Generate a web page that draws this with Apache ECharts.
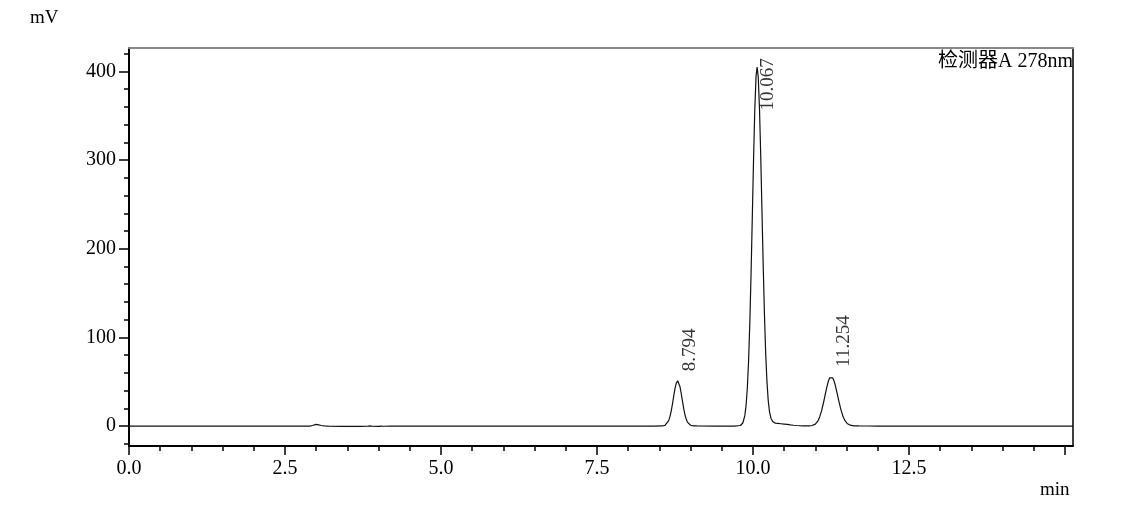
<!DOCTYPE html>
<html><head><meta charset="utf-8">
<script src="https://cdn.jsdelivr.net/npm/echarts@6/dist/echarts.min.js"></script>
<style>html,body{margin:0;padding:0;background:#fff}#c{width:1138px;height:506px}</style>
</head><body><div id="c"></div>
<script>
// Retention time (min) and detector signal (mV)
const times = [
  0, 1, 2, 2.9, 2.94, 2.97, 3.0, 3.04, 3.08, 3.13, 3.2, 3.4, 3.7, 3.82, 3.86, 3.9, 4.0, 4.04, 4.08, 4.2, 5, 6, 7, 8, 8.4,
  8.55, 8.59, 8.62, 8.65, 8.67, 8.69, 8.71, 8.73, 8.75, 8.77, 8.794, 8.81, 8.83, 8.85, 8.87, 8.89, 8.91, 8.93, 8.95, 8.97, 9.00, 9.05, 9.10, 9.4, 9.7,
  9.80, 9.84, 9.87, 9.89, 9.91, 9.93, 9.95, 9.97, 9.99, 10.01, 10.03, 10.05, 10.067,
  10.085, 10.105, 10.125, 10.145, 10.165, 10.185, 10.205, 10.225, 10.245, 10.265, 10.29, 10.32, 10.36, 10.40, 10.45, 10.50, 10.55, 10.60, 10.65, 10.70, 10.80, 10.90,
  10.95, 11.00, 11.04, 11.07, 11.10, 11.13, 11.16, 11.19, 11.21, 11.23, 11.254, 11.28, 11.30, 11.32, 11.35, 11.38, 11.41, 11.44, 11.47, 11.51, 11.56, 11.62, 11.70, 11.85, 12.0, 12.5, 13, 14, 15.13
];
const signal = [
  0, 0, 0, 0, 0.6, 1.6, 1.9, 1.3, 0.6, 0.2, 0, -0.3, -0.4, -0.2, 0.1, -0.2, -0.3, 0, -0.2, -0.1, 0, 0, 0, 0, 0,
  0.1, 0.7, 2.3, 6.1, 10.6, 16.9, 24.8, 33.6, 41.9, 48.1, 51, 49.7, 44.7, 37, 28.3, 19.9, 12.9, 8, 4.5, 2.4, 0.9, 0.3, 0.1, 0, 0,
  0.6, 3.7, 11.7, 23.2, 42.6, 72.9, 116, 171.6, 235.7, 301, 357.4, 394.5, 405,
  394, 358.5, 305, 242.5, 180.2, 125.2, 81.3, 49.8, 29, 16.4, 8.6, 4.8, 3.3, 3.0, 2.6, 2.2, 1.8, 1.3, 0.9, 0.6, 0.3, 0.1,
  0.6, 2.2, 5.7, 10.3, 17.1, 26, 36, 45.6, 50.8, 54.4, 56, 54.3, 50.9, 46, 36.9, 27.3, 18.6, 11.7, 6.7, 2.9, 1.0, 0.3, 0.1, 0.05, 0, 0, 0, 0, 0
];
const peakTimes = [8.794, 10.067, 11.254];
const peakHeights = [51, 405, 56];

const xMajorTicks = [0, 2.5, 5, 7.5, 10, 12.5, 15];
const xLabelTicks = [0, 2.5, 5, 7.5, 10, 12.5];
const xMinorTicks = [0.5, 1, 1.5, 2, 3, 3.5, 4, 4.5, 5.5, 6, 6.5, 7, 8, 8.5, 9, 9.5, 10.5, 11, 11.5, 12, 13, 13.5, 14, 14.5];
const yMajorTicks = [0, 100, 200, 300, 400];
const yMinorTicks = [-20, 20, 40, 60, 80, 120, 140, 160, 180, 220, 240, 260, 280, 320, 340, 360, 380, 420];

const xMin = 0, xMax = 15.13, yMin = -22.5, yMax = 426.5;
const FONT = '"Liberation Serif", "Noto Sans CJK SC", serif';

const chart = echarts.init(document.getElementById('c'), null, {renderer: 'canvas'});
const hidden = {show: false};
chart.setOption({
  animation: false,
  backgroundColor: '#fff',
  grid: {left: 129, right: 65, top: 48, bottom: 60, show: false},
  xAxis: [
    {type: 'value', min: xMin, max: xMax, position: 'bottom',
     axisLine: {show: true, onZero: false, lineStyle: {color: '#000', width: 2}},
     axisTick: {show: true, customValues: xMajorTicks, length: 9, lineStyle: {color: '#000', width: 1.5}},
     axisLabel: {show: true, customValues: xLabelTicks, formatter: v => v.toFixed(1), fontSize: 20, color: '#000', margin: 13, fontFamily: FONT},
     splitLine: hidden},
    {type: 'value', min: xMin, max: xMax, position: 'bottom',
     axisLine: {show: false, onZero: false},
     axisTick: {show: true, customValues: xMinorTicks, length: 5, lineStyle: {color: '#000', width: 1.5}},
     axisLabel: hidden, splitLine: hidden},
    {type: 'value', min: xMin, max: xMax, position: 'top',
     axisLine: {show: true, onZero: false, lineStyle: {color: '#888', width: 2}},
     axisTick: hidden, axisLabel: hidden, splitLine: hidden}
  ],
  yAxis: [
    {type: 'value', min: yMin, max: yMax, position: 'left',
     axisLine: {show: true, onZero: false, lineStyle: {color: '#000', width: 2}},
     axisTick: {show: true, customValues: yMajorTicks, length: 10, lineStyle: {color: '#000', width: 1.5}},
     axisLabel: {show: true, customValues: yMajorTicks, fontSize: 20, color: '#000', margin: 13, fontFamily: FONT},
     splitLine: hidden},
    {type: 'value', min: yMin, max: yMax, position: 'left',
     axisLine: {show: false, onZero: false},
     axisTick: {show: true, customValues: yMinorTicks, length: 5, lineStyle: {color: '#000', width: 1.5}},
     axisLabel: hidden, splitLine: hidden},
    {type: 'value', min: yMin, max: yMax, position: 'right',
     axisLine: {show: true, onZero: false, lineStyle: {color: '#000', width: 1.5}},
     axisTick: hidden, axisLabel: hidden, splitLine: hidden}
  ],
  graphic: [
    {type: 'text', left: 30, top: 9, style: {text: 'mV', font: '19px ' + FONT, fill: '#000'}},
    {type: 'text', left: 1040, top: 481, style: {text: 'min', font: '19px ' + FONT, fill: '#000'}},
    {type: 'text', right: 65, top: 52, style: {text: '检测器A 278nm', font: '20px ' + FONT, fill: '#000'}}
  ],
  series: [
    {type: 'line', xAxisIndex: 0, yAxisIndex: 0, showSymbol: false, symbol: 'none',
     data: times.map((t, i) => [t, signal[i]]),
     lineStyle: {color: '#111', width: 1.2}, z: 5},
    {type: 'scatter', xAxisIndex: 0, yAxisIndex: 0, symbolSize: 1,
     itemStyle: {color: 'transparent'},
     data: peakTimes.map((t, i) => {
       const d = {value: [t, peakHeights[i]]};
       if (i === 1) d.label = {position: [11, 44]};
       return d;
     }),
     label: {show: true, rotate: 90, position: [13, -9], align: 'left', verticalAlign: 'middle',
             formatter: p => p.value[0].toFixed(3), fontSize: 19, color: '#000', fontFamily: FONT},
     z: 6}
  ]
});
</script>
</body></html>
